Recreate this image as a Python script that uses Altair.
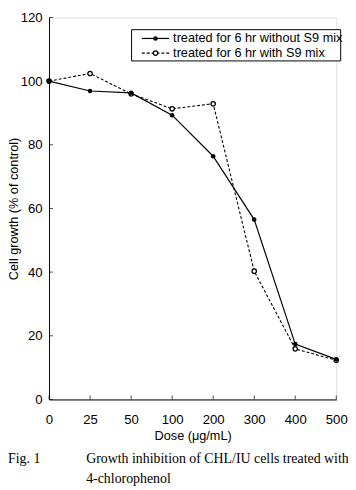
import altair as alt
import pandas as pd

doses = ["0", "25", "50", "100", "200", "300", "400", "500"]
without_s9 = [100, 96.9, 96.3, 89.3, 76.4, 56.5, 17.4, 12.6]
with_s9 = [100, 102.4, 96.0, 91.3, 92.9, 40.3, 15.9, 12.3]
y_ticks = [0, 20, 40, 60, 80, 100, 120]
legend_labels = ["treated for 6 hr without S9 mix", "treated for 6 hr with S9 mix"]
caption_label = "Fig. 1"
caption_lines = ["Growth inhibition of CHL/IU cells treated with", "4-chlorophenol"]

SANS = "Liberation Sans"
SERIF = "Liberation Serif"

df_without = pd.DataFrame({"dose": doses, "value": without_s9})
df_with = pd.DataFrame({"dose": doses, "value": with_s9})
df_xt = pd.DataFrame({"dose": doses})
df_yt = pd.DataFrame({"dose": ["0"] * len(y_ticks), "value": y_ticks})

xscale = alt.Scale(type="point", padding=0, domain=doses)
yscale = alt.Scale(domain=[0, 120])

x_enc = alt.X("dose:O", scale=xscale, sort=doses,
              axis=alt.Axis(title="Dose (μg/mL)", labelAngle=0, ticks=False, tickSize=0,
                            labelPadding=14, labelFontSize=13.5, labelFont=SANS,
                            titleFont=SANS, titleFontSize=13, titleFontWeight="normal",
                            titlePadding=4, domainColor="black", labelColor="black",
                            titleColor="black", grid=False))
y_enc = alt.Y("value:Q", scale=yscale,
              axis=alt.Axis(title="Cell growth (% of control)", values=y_ticks, ticks=False,
                            tickSize=0, labelPadding=7, labelFontSize=13.5, labelFont=SANS,
                            titleFont=SANS, titleFontSize=13, titleFontWeight="normal",
                            titlePadding=0, domainColor="black", labelColor="black",
                            titleColor="black", grid=False))

line_without = alt.Chart(df_without).mark_line(color="black", strokeWidth=1.2).encode(x=x_enc, y=y_enc)
pts_without = alt.Chart(df_without).mark_point(shape="circle", filled=True, color="black",
                                               size=22, opacity=1).encode(x=x_enc, y=y_enc)
line_with = alt.Chart(df_with).mark_line(color="black", strokeWidth=1.1, strokeDash=[3, 2]).encode(x=x_enc, y=y_enc)
pts_with = alt.Chart(df_with).mark_point(shape="circle", filled=True, fill="white", stroke="black",
                                         strokeWidth=1.3, size=20, opacity=1).encode(x=x_enc, y=y_enc)

xticks = alt.Chart(df_xt).mark_tick(orient="vertical", color="black", size=4, thickness=1,
                                    yOffset=-2).encode(x=alt.X("dose:O", scale=xscale, sort=doses),
                                                        y=alt.datum(0, scale=yscale))
yticks = alt.Chart(df_yt).mark_tick(orient="horizontal", color="black", size=4, thickness=1,
                                    xOffset=2).encode(x=alt.X("dose:O", scale=xscale, sort=doses),
                                                      y=alt.Y("value:Q", scale=yscale))

# legend
df_leg = pd.DataFrame({"label": legend_labels})
leg_box = alt.Chart(df_leg.head(1)).mark_rect(fill="white", stroke="black", strokeWidth=1).encode(
    x=alt.value(84.5), x2=alt.value(298.5), y=alt.value(12.5), y2=alt.value(44.5))
leg_l1 = alt.Chart(df_leg.head(1)).mark_rule(color="black", strokeWidth=1.2).encode(
    x=alt.value(95), x2=alt.value(123), y=alt.value(21.5))
leg_p1 = alt.Chart(df_leg.head(1)).mark_point(shape="circle", filled=True, color="black", size=22,
                                              opacity=1).encode(x=alt.value(109), y=alt.value(21.5))
leg_t1 = alt.Chart(df_leg.head(1)).mark_text(align="left", baseline="middle", font=SANS, fontSize=13,
                                             color="black").encode(
    x=alt.value(127), y=alt.value(21.5), text="label:N")
leg_l2 = alt.Chart(df_leg.tail(1)).mark_rule(color="black", strokeWidth=1.1, strokeDash=[3, 2]).encode(
    x=alt.value(95), x2=alt.value(123), y=alt.value(36.5))
leg_p2 = alt.Chart(df_leg.tail(1)).mark_point(shape="circle", filled=True, fill="white", stroke="black",
                                              strokeWidth=1.3, size=20, opacity=1).encode(
    x=alt.value(109), y=alt.value(36.5))
leg_t2 = alt.Chart(df_leg.tail(1)).mark_text(align="left", baseline="middle", font=SANS, fontSize=13,
                                             color="black").encode(
    x=alt.value(127), y=alt.value(36.5), text="label:N")

# caption
df_cap = pd.DataFrame({"t": [caption_label]})
cap0 = alt.Chart(df_cap).mark_text(align="left", baseline="middle", font=SERIF, fontSize=14.2,
                                   color="black").encode(x=alt.value(-42), y=alt.value(452), text="t:N")
df_c1 = pd.DataFrame({"t": [caption_lines[0]]})
df_c2 = pd.DataFrame({"t": [caption_lines[1]]})
cap1 = alt.Chart(df_c1).mark_text(align="left", baseline="middle", font=SERIF, fontSize=14.2,
                                  color="black").encode(x=alt.value(38), y=alt.value(452), text="t:N")
cap2 = alt.Chart(df_c2).mark_text(align="left", baseline="middle", font=SERIF, fontSize=14.2,
                                  color="black").encode(x=alt.value(38), y=alt.value(472), text="t:N")

chart = alt.layer(
    line_with, line_without, pts_with, pts_without, xticks, yticks,
    leg_box, leg_l1, leg_p1, leg_t1, leg_l2, leg_p2, leg_t2,
    cap0, cap1, cap2,
).properties(
    width=294, height=391,
    autosize=alt.AutoSizeParams(type="none"),
    padding={"left": 42, "top": 4, "right": 12, "bottom": 87},
).configure_view(stroke=None).configure(background="white")

chart.save("out.html", embed_options={"renderer": "svg", "actions": False})
